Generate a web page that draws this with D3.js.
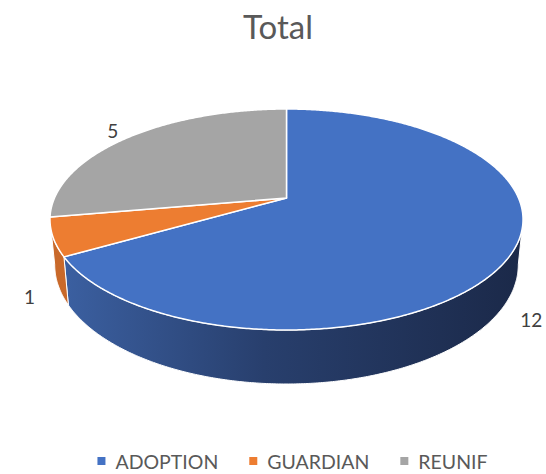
<!DOCTYPE html>
<html>
<head>
<meta charset="utf-8">
<script src="https://cdn.jsdelivr.net/npm/d3@7"></script>
<style>
  html, body { margin: 0; padding: 0; background: #fff; }
  svg { display: block; }
</style>
</head>
<body>
<svg id="chart" width="546" height="474"></svg>
<script>
const title = "Total";
const categories = ["ADOPTION", "GUARDIAN", "REUNIF"];
const values = [12, 1, 5];
const topColors = ["#4472C4", "#ED7D31", "#A5A5A5"];
const sideColorsLeft = ["#3c61a3", "#c9692a", "#8c8c8c"];
const sideColorsRight = ["#1b2949", "#b85f26", "#6e6e6e"];

const W = 546, H = 474;
const svg = d3.select("#chart");
const font = "Lato, 'Open Sans', sans-serif";

// perspective ellipse geometry
const cx = 286.5, cy0 = 198, A = 232, B = 106.3, p = 0.1946, D = 43.5, bottomScale = 0.98;
function proj(theta, level, k) {
  k = k || 1;
  const u = Math.sin(theta) * k, v = -Math.cos(theta) * k;
  const w = 1 - p * (-Math.cos(theta));
  const sx = level ? bottomScale : 1;
  return [cx + A * u / w * sx, cy0 + B * v / w + (level ? D / w : 0)];
}

const pie = d3.pie().sort(null).value(d => d)(values);
const defs = svg.append("defs");
pie.forEach((d, i) => {
  const g = defs.append("linearGradient").attr("id", "side" + i)
    .attr("gradientUnits", "userSpaceOnUse")
    .attr("x1", 55).attr("x2", 520).attr("y1", 0).attr("y2", 0);
  g.append("stop").attr("offset", 0).attr("stop-color", sideColorsLeft[i]);
  g.append("stop").attr("offset", 0.45).attr("stop-color", d3.interpolateRgb(sideColorsLeft[i], sideColorsRight[i])(0.6));
  g.append("stop").attr("offset", 1).attr("stop-color", sideColorsRight[i]);
});

const visA = Math.acos(-p), visB = 2 * Math.PI - Math.acos(-p);
const step = Math.PI / 360;
function arcPts(a0, a1, level) {
  const pts = [];
  const n = Math.max(2, Math.ceil((a1 - a0) / step));
  for (let j = 0; j <= n; j++) pts.push(proj(a0 + (a1 - a0) * j / n, level));
  return pts;
}

// sides
const sideG = svg.append("g");
pie.forEach((d, i) => {
  const a0 = Math.max(d.startAngle, visA), a1 = Math.min(d.endAngle, visB);
  if (a1 <= a0) return;
  const top = arcPts(a0, a1, 0);
  const bot = arcPts(a0, a1, 1).reverse();
  sideG.append("path")
    .attr("d", "M" + top.concat(bot).map(q => q.join(",")).join("L") + "Z")
    .attr("fill", `url(#side${i})`)
    .attr("stroke", "#ffffff").attr("stroke-width", 1).attr("stroke-linejoin", "round");
});

// tops
const topG = svg.append("g");
pie.forEach((d, i) => {
  const pts = [[cx, cy0]].concat(arcPts(d.startAngle, d.endAngle, 0));
  topG.append("path")
    .attr("d", "M" + pts.map(q => q.join(",")).join("L") + "Z")
    .attr("fill", topColors[i])
    .attr("stroke", "#ffffff").attr("stroke-width", 1.5).attr("stroke-linejoin", "round");
});

// data labels
pie.forEach((d, i) => {
  const mid = (d.startAngle + d.endAngle) / 2;
  const v = -Math.cos(mid);
  const pos = proj(mid, 0, 1.1);
  const w = 1 + p * Math.cos(mid);
  const extra = v > 0 ? 1.2 * D / w : 0;
  svg.append("text")
    .attr("x", pos[0]).attr("y", pos[1] + extra)
    .attr("dy", "0.36em")
    .attr("text-anchor", "middle")
    .attr("font-family", font).attr("font-size", 19)
    .attr("fill", "#404040")
    .text(d.data);
});

// title
svg.append("text")
  .attr("x", 278).attr("y", 39)
  .attr("text-anchor", "middle")
  .attr("font-family", font).attr("font-size", 33)
  .attr("fill", "#595959")
  .text(title);

// legend
const leg = svg.append("g").attr("font-family", font).attr("font-size", 19.5).attr("fill", "#595959");
let x = 0;
categories.forEach((c, i) => {
  const g = leg.append("g");
  g.append("rect").attr("x", x).attr("y", -12).attr("width", 8).attr("height", 8).attr("fill", topColors[i]);
  const t = g.append("text").attr("x", x + 18).attr("y", 0).text(c);
  const tw = t.node().getComputedTextLength();
  x += 18 + tw + 31;
});
const totalW = x - 31;
leg.attr("transform", `translate(${292.5 - totalW / 2},469)`);
</script>
</body>
</html>
